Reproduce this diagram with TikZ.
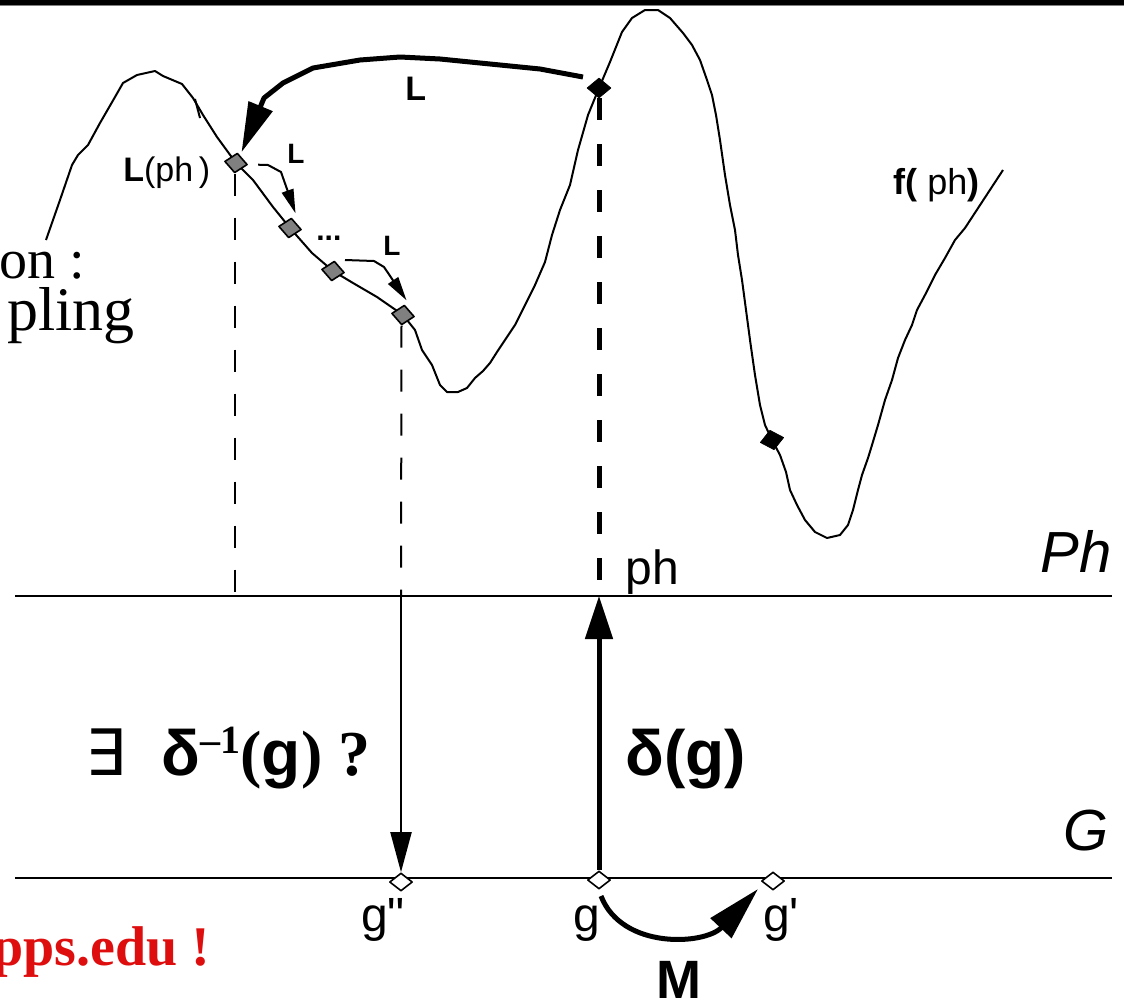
\documentclass[tikz,border=0pt]{standalone}
\usepackage{fontspec}
\setmainfont{Liberation Serif}
\setsansfont{Liberation Sans}[Ligatures=TeXOff]
\newfontfamily\symbfont{DejaVu Sans}
\usetikzlibrary{arrows.meta,shapes.geometric}
\definecolor{ptgrey}{RGB}{128,128,128}
\definecolor{mailred}{RGB}{222,14,14}

\begin{document}
\begin{tikzpicture}[x=0.5pt,y=-0.5pt,line join=round,
  every node/.style={font=\sffamily,inner sep=0pt},
  curvept/.style={draw,diamond,fill=ptgrey,line width=0.8pt,minimum width=11.5pt,minimum height=10pt},
  blackpt/.style={draw,diamond,fill=black,minimum width=12pt,minimum height=10pt},
  genept/.style={draw,diamond,fill=white,line width=0.8pt,minimum width=11.5pt,minimum height=9pt},
  axis/.style={line width=1pt},
  thindash/.style={line width=1pt,dash pattern=on 11pt off 11pt},
  thickdash/.style={line width=2.5pt,dash pattern=on 11pt off 12pt},
  smallarr/.style={line width=1pt,-{Triangle[length=12pt,width=6pt]}},
  bigarr/.style={line width=2.5pt,-{Triangle[length=25pt,width=12.5pt]}}]
\useasboundingbox (0,0) rectangle (1124,1001);
\clip (0,0) rectangle (1124,1001);
\fill (0,0) rectangle (1124,4.5);
\draw[gray,line width=0.5pt] (0,5.5) -- (1124,5.5);

% the two spaces
\coordinate (phL) at (15,596);
\coordinate (phR) at (1112,596);
\coordinate (gL) at (15,878);
\coordinate (gR) at (1112,878);
\draw[axis] (phL) -- (phR);
\draw[axis] (gL) -- (gR);

% fitness curve
\draw[line width=1pt] plot coordinates {(46,240) (60,200) (72,165) (78,155) (88,145) (100,123)
  (115,97) (123,83) (137,75) (155,71) (163,76) (182,84) (193,98) (203,115) (217,137) (236,163)
  (253,180) (273,207) (290,228) (312,253) (333,271) (353,283) (377,297) (403,315) (415,330)
  (422,350) (432,365) (440,385) (447,392) (458,392) (467,388) (475,378) (483,371) (490,363)
  (497,352) (505,340) (515,325) (525,305) (535,285) (545,262) (552,235) (560,210) (570,185)
  (578,150) (588,115) (599,88) (610,62) (622,32) (632,18) (645,10) (658,10) (670,18) (683,33)
  (692,45) (700,60) (707,80) (712,95) (716,115) (720,140) (725,175) (730,205) (735,230)
  (738,255) (742,280) (746,310) (750,340) (755,375) (760,405) (765,425) (772,440) (780,455)
  (786,472) (790,490) (797,505) (805,520) (815,532) (827,538) (840,535) (848,525) (853,510)
  (858,490) (862,475) (868,458) (872,445) (878,425) (885,400) (892,380) (898,358) (905,340)
  (912,325) (917,310) (925,295) (935,275) (945,258) (955,240) (965,228) (1003,170)};
\draw[line width=1pt] (195,99) -- (200,118);

% points on the curve
\node[curvept,rotate=-8] (lph) at (236,163) {};
\node[curvept,rotate=-8] (s1) at (290,228) {};
\node[curvept,rotate=-8] (s2) at (333,271) {};
\node[curvept,rotate=-8] (s3) at (403,315) {};
\node[blackpt] (ph0) at (599,88) {};
\node[blackpt,rotate=12] (bk) at (772,440) {};

% genotypes
\node[genept] (gpp) at (401,882) {};
\node[genept] (g) at (599,880) {};
\node[genept] (gp) at (773,881) {};
\coordinate (phpt) at (599,596);
\coordinate (gpppt) at (401,596);

% projections
\draw[thindash] (lph.south) -- (lph.south |- phL);
\draw[thindash] (s3.south) -- (gpppt);
\draw[thickdash] (ph0.south) -- (phpt);
\draw[line width=1pt,-{Triangle[length=20pt,width=10.5pt]}] (gpppt) -- (gpp.north);
\draw[line width=2.5pt,-{Triangle[length=21.5pt,width=13.5pt]}] (g.north) -- (phpt);

% local search
\coordinate (lstart) at (583,77);
\draw[bigarr] (lstart) -- (540,69) -- (440,59) -- (400,57) -- (360,60) -- (313,68)
  -- (283,83) -- (264,98) -- ([xshift=2]lph.north);
\draw[smallarr] ([xshift=5]lph.east) -- (268,165) -- (281,172) -- ([xshift=2,yshift=2]s1.north);
\draw[smallarr] (345,260) -- (374,261) -- (384,267) -- ([xshift=1,yshift=2]s3.north);

% mutation
\coordinate (mstart) at (601,896);
\coordinate (mend) at (758,889);
\draw[line width=2.5pt,-{Triangle[length=27pt,width=14pt]}] (mstart) .. controls (622,950) and (705,945) .. (mend);

% labels
\node[anchor=base west,font=\sffamily\bfseries\fontsize{17}{20}\selectfont] (lbig) at (405,100) {L};
\node[anchor=base west,font=\sffamily\bfseries\fontsize{14}{17}\selectfont] (l1) at (287,163) {L};
\node[anchor=base west,font=\sffamily\bfseries\fontsize{14}{17}\selectfont] (l2) at (383,255) {L};
\node[anchor=base west,font=\sffamily\bfseries\fontsize{15}{18}\selectfont] (dots) at (316,240) {...};
\node[anchor=base west,font=\sffamily\fontsize{17}{20}\selectfont] (lphlab) at (123,181) {\textbf{L}(ph\,)};
\node[anchor=base west,font=\sffamily\fontsize{18}{21}\selectfont] (flab) at (893,194) {\textbf{f(} ph\textbf{)}};
\node[anchor=base east,font=\sffamily\itshape\fontsize{29}{34}\selectfont] (phaxis) at (1112,572) {Ph};
\node[anchor=base east,font=\sffamily\itshape\fontsize{29}{34}\selectfont] (gaxis) at (1109,850) {G};
\node[anchor=base west,font=\sffamily\fontsize{24}{28}\selectfont] (phlab) at (625,584) {ph};
\node[anchor=base,font=\sffamily\fontsize{24}{28}\selectfont] (gpplab) at (383,931) {g"};
\node[anchor=base,font=\sffamily\fontsize{24}{28}\selectfont] (glab) at (587,931) {g};
\node[anchor=base,font=\sffamily\fontsize{24}{28}\selectfont] (gplab) at (781,931) {g'};
\node[anchor=base,font=\sffamily\bfseries\fontsize{27}{30}\selectfont] (mlab) at (679,998) {M};
\node[anchor=base west,font=\sffamily\bfseries\fontsize{32}{36}\selectfont] (dlab) at (625,775) {δ(g)};
\node[anchor=base west,font=\rmfamily\bfseries\fontsize{32}{36}\selectfont] (invlab) at (85,775)
  {{\mdseries\symbfont ∃}\hspace{18pt}{\sffamily δ}\raisebox{11pt}{\fontsize{20}{22}\selectfont –1}({\sffamily g})\hspace{8pt}?};
\node[anchor=base east,font=\rmfamily\fontsize{28}{30}\selectfont] (txt1) at (85,278) {on :};
\node[anchor=base east,font=\rmfamily\fontsize{31}{33}\selectfont] (txt2) at (135,330) {pling};
\node[anchor=base east,font=\rmfamily\bfseries\fontsize{28}{32}\selectfont,text=mailred] (txt3) at (211,965) {pps.edu !};
\end{tikzpicture}
\end{document}
